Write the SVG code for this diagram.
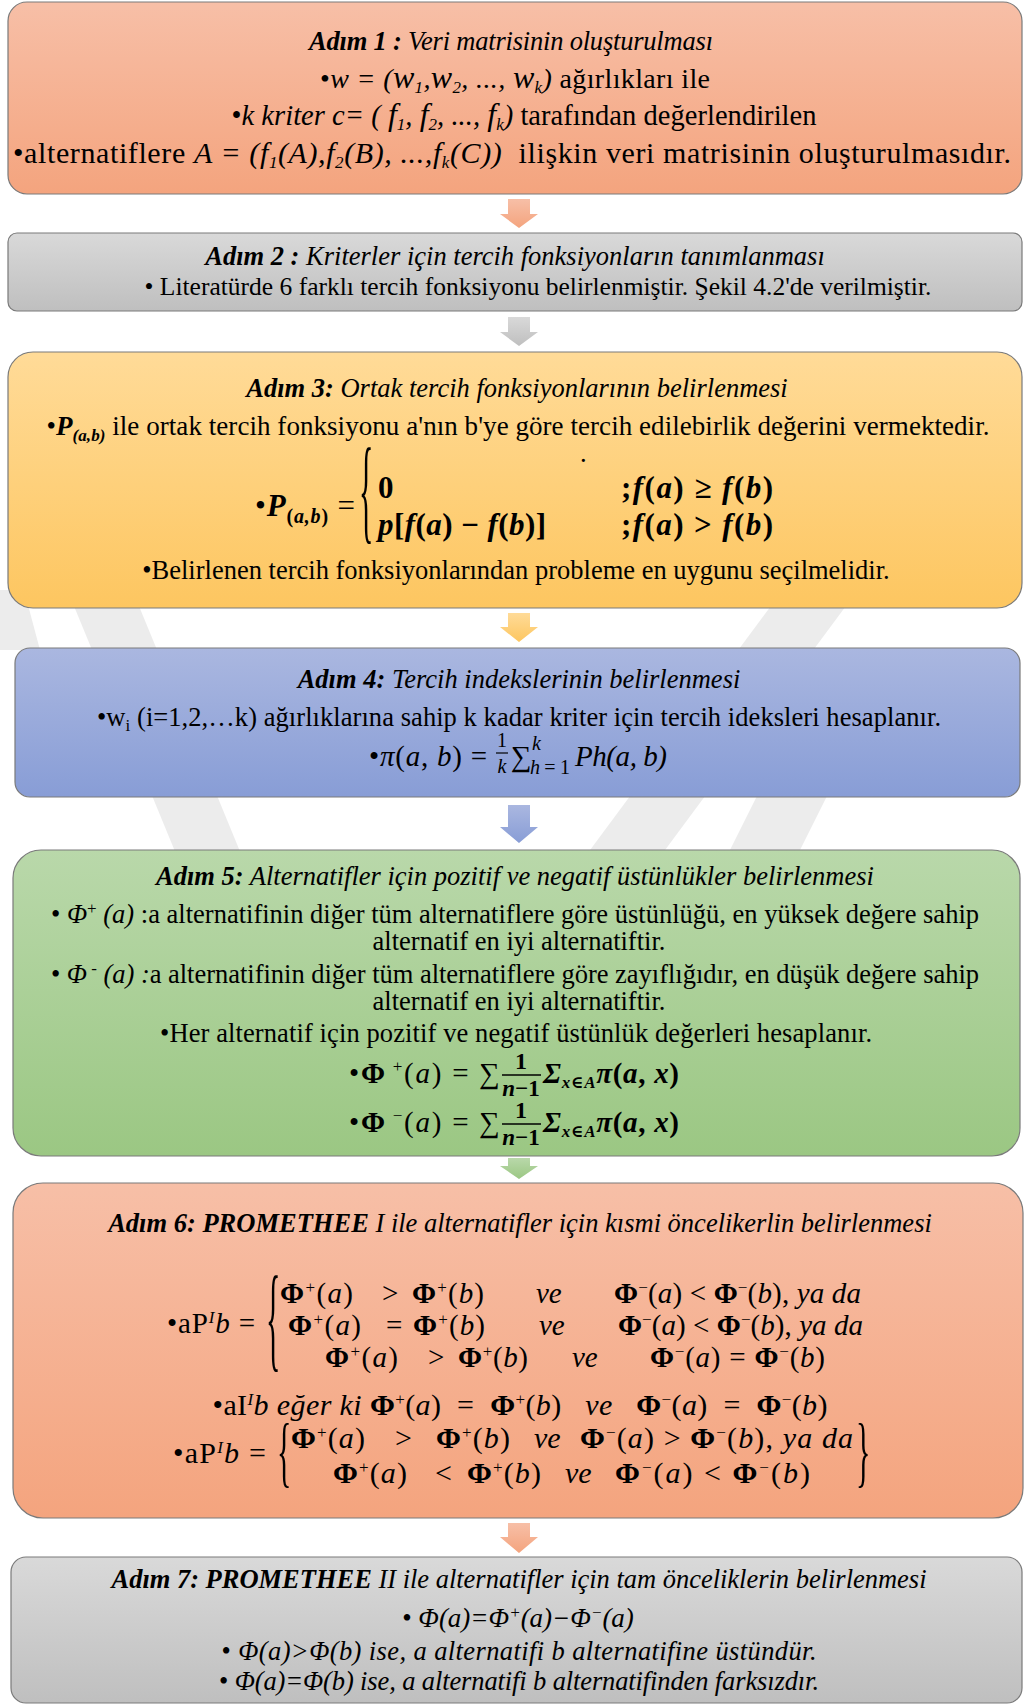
<svg xmlns="http://www.w3.org/2000/svg" width="1024" height="1704" viewBox="0 0 1024 1704">
<defs>
<style>
.t{font-family:"Liberation Serif","Times New Roman","DejaVu Serif",serif;font-size:26.5px;fill:#000}
.m{font-family:"Liberation Serif","Times New Roman","DejaVu Serif",serif;font-size:29px;fill:#000}
.bi{font-weight:bold;font-style:italic}
.i{font-style:italic}
.b{font-weight:bold}
.sp{font-size:17px}
.box{stroke:#7a7a7a;stroke-width:1.2}
.wm{fill:#ececec}
</style>
<linearGradient id="gS" x1="0" y1="0" x2="0" y2="1"><stop offset="0" stop-color="#f7bfa7"/><stop offset="1" stop-color="#f4a47e"/></linearGradient>
<linearGradient id="gG" x1="0" y1="0" x2="0" y2="1"><stop offset="0" stop-color="#d9d9d9"/><stop offset="1" stop-color="#bfbfbf"/></linearGradient>
<linearGradient id="gY" x1="0" y1="0" x2="0" y2="1"><stop offset="0" stop-color="#ffdb98"/><stop offset="1" stop-color="#fdc660"/></linearGradient>
<linearGradient id="gB" x1="0" y1="0" x2="0" y2="1"><stop offset="0" stop-color="#aab7e0"/><stop offset="1" stop-color="#889dd6"/></linearGradient>
<linearGradient id="gV" x1="0" y1="0" x2="0" y2="1"><stop offset="0" stop-color="#b9d8aa"/><stop offset="1" stop-color="#9bc783"/></linearGradient>
</defs>

<g id="watermark">
<polygon class="wm" points="55,560 120,560 260,900 195,900"/>
<polygon class="wm" points="805,560 880,560 628,900 553,900"/>
<polygon class="wm" points="0,590 24,590 40,650 0,650"/>
<polygon class="wm" points="760,790 830,790 800,850 730,850"/>
</g>

<g id="connectors">
<polygon fill="url(#gS)" points="508,199 530,199 530,214 538,214 519,228 500,214 508,214"/>
<polygon fill="url(#gG)" points="508,317 530,317 530,332 538,332 519,346 500,332 508,332"/>
<polygon fill="url(#gY)" points="508,613 530,613 530,627 538,627 519,642 500,627 508,627"/>
<polygon fill="url(#gB)" points="508,805 530,805 530,827 538,827 519,843 500,827 508,827"/>
<polygon fill="url(#gV)" points="508,1158 530,1158 530,1166 538,1166 519,1179 500,1166 508,1166"/>
<polygon fill="url(#gS)" points="508,1523 530,1523 530,1537 538,1537 519,1553 500,1537 508,1537"/>
</g>

<g id="step1">
<rect class="box" x="8" y="2" width="1014" height="192" rx="19" fill="url(#gS)"/>
<text class="t" x="511" y="50" text-anchor="middle" textLength="404"><tspan class="bi">Adım 1 :</tspan><tspan class="i"> Veri matrisinin oluşturulması</tspan></text>
<text class="t" style="font-size:28px" x="515" y="88" text-anchor="middle" textLength="390">•<tspan class="i">w = (</tspan><tspan class="i" font-size="32">w</tspan><tspan class="i sp" dy="5">1</tspan><tspan class="i" dy="-5">,</tspan><tspan class="i" font-size="32">w</tspan><tspan class="i sp" dy="5">2</tspan><tspan class="i" dy="-5">, ..., </tspan><tspan class="i" font-size="32">w</tspan><tspan class="i sp" dy="5">k</tspan><tspan class="i" dy="-5">)</tspan> ağırlıkları ile</text>
<text class="t" style="font-size:28.5px" x="524" y="125" text-anchor="middle" textLength="585">•<tspan class="i">k kriter c= ( </tspan><tspan class="i" font-size="32">f</tspan><tspan class="i sp" dy="5">1</tspan><tspan class="i" dy="-5">, </tspan><tspan class="i" font-size="32">f</tspan><tspan class="i sp" dy="5">2</tspan><tspan class="i" dy="-5">, ..., </tspan><tspan class="i" font-size="32">f</tspan><tspan class="i sp" dy="5">k</tspan><tspan class="i" dy="-5">)</tspan> tarafından değerlendirilen</text>
<text class="t" style="font-size:30px" x="512" y="163" text-anchor="middle" textLength="998">•alternatiflere <tspan class="i">A = (f</tspan><tspan class="i sp" dy="5">1</tspan><tspan class="i" dy="-5">(A),f</tspan><tspan class="i sp" dy="5">2</tspan><tspan class="i" dy="-5">(B), ...,f</tspan><tspan class="i sp" dy="5">k</tspan><tspan class="i" dy="-5">(C))</tspan>&#160; ilişkin veri matrisinin oluşturulmasıdır.</text>
</g>

<g id="step2">
<rect class="box" x="8" y="233" width="1014" height="78" rx="9" fill="url(#gG)"/>
<text class="t" x="515" y="265" text-anchor="middle"><tspan class="bi">Adım 2 :</tspan><tspan class="i"> Kriterler için tercih fonksiyonların tanımlanması</tspan></text>
<text class="t" style="font-size:25.5px" x="538" y="295" text-anchor="middle">•&#160;Literatürde 6 farklı tercih fonksiyonu belirlenmiştir. Şekil 4.2'de verilmiştir.</text>
</g>

<g id="step3">
<rect class="box" x="8" y="352" width="1014" height="256" rx="25" fill="url(#gY)"/>
<text class="t" x="517" y="397" text-anchor="middle"><tspan class="bi">Adım 3:</tspan><tspan class="i"> Ortak tercih fonksiyonlarının belirlenmesi</tspan></text>
<text class="t" style="font-size:27px" x="518" y="435" text-anchor="middle" textLength="943">•<tspan class="bi">P</tspan><tspan class="bi sp" dy="6">(a,b)</tspan><tspan dy="-6"> ile ortak tercih fonksiyonu a'nın b'ye göre tercih edilebirlik değerini vermektedir.</tspan></text>
<text class="m" style="font-size:31px" x="255" y="516" textLength="100">•<tspan class="bi">P</tspan><tspan class="b" font-size="20" dy="7">(</tspan><tspan class="bi" font-size="20">a,b</tspan><tspan class="b" font-size="20">)</tspan><tspan dy="-7"> =</tspan></text>
<text class="t" style="font-size:30px" transform="translate(359,528) scale(1,3.9)">{</text>
<text class="m b" style="font-size:31px" x="378" y="498">0</text>
<text class="m b" style="font-size:31px" x="378" y="535" textLength="168"><tspan class="bi">p</tspan>[<tspan class="bi">f</tspan>(<tspan class="bi">a</tspan>) − <tspan class="bi">f</tspan>(<tspan class="bi">b</tspan>)]</text>
<text class="m b" style="font-size:31px" x="621" y="498" textLength="152">;<tspan class="bi">f</tspan>(<tspan class="bi">a</tspan>) ≥ <tspan class="bi">f</tspan>(<tspan class="bi">b</tspan>)</text>
<text class="m b" style="font-size:31px" x="621" y="535" textLength="152">;<tspan class="bi">f</tspan>(<tspan class="bi">a</tspan>) &gt; <tspan class="bi">f</tspan>(<tspan class="bi">b</tspan>)</text>
<text class="t" x="580" y="462">.</text>
<text class="t" x="516" y="579" text-anchor="middle">•Belirlenen tercih fonksiyonlarından probleme en uygunu seçilmelidir.</text>
</g>

<g id="step4">
<rect class="box" x="15" y="648" width="1005" height="149" rx="15" fill="url(#gB)"/>
<text class="t" x="519" y="688" text-anchor="middle"><tspan class="bi">Adım 4:</tspan><tspan class="i"> Tercih indekslerinin belirlenmesi</tspan></text>
<text class="t" x="519" y="726" text-anchor="middle" textLength="844">•w<tspan class="sp" dy="5">i</tspan><tspan dy="-5"> (i=1,2,…k) ağırlıklarına sahip k kadar kriter için tercih ideksleri hesaplanır.</tspan></text>
<text class="m" x="369" y="766" textLength="118">•<tspan class="i">π</tspan>(<tspan class="i">a</tspan>, <tspan class="i">b</tspan>) =</text>
<text class="t" style="font-size:20px" x="502" y="747" text-anchor="middle">1</text>
<line x1="496" y1="753" x2="508" y2="753" stroke="#000" stroke-width="1.2"/>
<text class="t i" style="font-size:20px" x="502" y="773" text-anchor="middle">k</text>
<text class="m" x="511" y="766">∑</text>
<text class="t i" style="font-size:20px" x="532" y="750">k</text>
<text class="t" style="font-size:20px" x="530" y="774" textLength="40"><tspan class="i">h</tspan>=1</text>
<text class="m i" x="575" y="766" textLength="92">Ph(a, b)</text>
</g>

<g id="step5">
<rect class="box" x="13" y="850" width="1007" height="306" rx="28" fill="url(#gV)"/>
<text class="t" x="515" y="885" text-anchor="middle"><tspan class="bi">Adım 5:</tspan><tspan class="i"> Alternatifler için pozitif ve negatif üstünlükler belirlenmesi</tspan></text>
<text class="t" x="515" y="923" text-anchor="middle" textLength="928">• <tspan class="i">Φ</tspan><tspan class="sp" dy="-9">+</tspan><tspan class="i" dy="9"> (a)</tspan> :a alternatifinin diğer tüm alternatiflere göre üstünlüğü, en yüksek değere sahip</text>
<text class="t" x="519" y="950" text-anchor="middle">alternatif en iyi alternatiftir.</text>
<text class="t" x="515" y="983" text-anchor="middle" textLength="928">• <tspan class="i">Φ</tspan><tspan class="sp" dy="-9"> -</tspan><tspan class="i" dy="9"> (a) :</tspan>a alternatifinin diğer tüm alternatiflere göre zayıflığıdır, en düşük değere sahip</text>
<text class="t" x="519" y="1010" text-anchor="middle">alternatif en iyi alternatiftir.</text>
<text class="t" x="516" y="1042" text-anchor="middle" textLength="712">•Her alternatif için pozitif ve negatif üstünlük değerleri hesaplanır.</text>
<text class="m" x="349" y="1083" textLength="151">•<tspan class="b">Φ</tspan><tspan class="sp" dy="-11"> +</tspan><tspan dy="11">(</tspan><tspan class="i">a</tspan>) = ∑</text>
<text class="t b" style="font-size:24px" x="521" y="1069" text-anchor="middle">1</text>
<line x1="502" y1="1075" x2="541" y2="1075" stroke="#000" stroke-width="1.5"/>
<text class="t b" style="font-size:23px" x="521" y="1096" text-anchor="middle"><tspan class="i">n</tspan>−1</text>
<text class="m b" x="543" y="1083" textLength="136"><tspan class="bi">Σ</tspan><tspan class="bi sp" dy="5">x∈A</tspan><tspan class="bi" dy="-5">π</tspan>(<tspan class="bi">a</tspan>, <tspan class="bi">x</tspan>)</text>
<text class="m" x="349" y="1132" textLength="151">•<tspan class="b">Φ</tspan><tspan class="sp" dy="-11"> −</tspan><tspan dy="11">(</tspan><tspan class="i">a</tspan>) = ∑</text>
<text class="t b" style="font-size:24px" x="521" y="1118" text-anchor="middle">1</text>
<line x1="502" y1="1124" x2="541" y2="1124" stroke="#000" stroke-width="1.5"/>
<text class="t b" style="font-size:23px" x="521" y="1145" text-anchor="middle"><tspan class="i">n</tspan>−1</text>
<text class="m b" x="543" y="1132" textLength="136"><tspan class="bi">Σ</tspan><tspan class="bi sp" dy="5">x∈A</tspan><tspan class="bi" dy="-5">π</tspan>(<tspan class="bi">a</tspan>, <tspan class="bi">x</tspan>)</text>
</g>

<g id="step6">
<rect class="box" x="13" y="1183" width="1010" height="335" rx="30" fill="url(#gS)"/>
<text class="t" x="520" y="1232" text-anchor="middle"><tspan class="bi">Adım 6: PROMETHEE</tspan><tspan class="i"> I ile alternatifler için kısmi öncelikerlin belirlenmesi</tspan></text>
<text class="m" x="167" y="1333" textLength="88">•aP<tspan class="i sp" dy="-10">I</tspan><tspan class="i" dy="10">b</tspan> =</text>
<text class="t" style="font-size:30px" transform="translate(266,1356) scale(1,3.9)">{</text>
<text class="m" x="280" y="1303" textLength="73"><tspan class="b">Φ</tspan><tspan class="sp" dy="-10">+</tspan><tspan dy="10">(</tspan><tspan class="i">a</tspan>)</text>
<text class="m" x="382" y="1303">&gt;</text>
<text class="m" x="412" y="1303" textLength="72"><tspan class="b">Φ</tspan><tspan class="sp" dy="-10">+</tspan><tspan dy="10">(</tspan><tspan class="i">b</tspan>)</text>
<text class="m i" x="536" y="1303">ve</text>
<text class="m" x="614" y="1303" textLength="247"><tspan class="b">Φ</tspan><tspan class="sp" dy="-10">−</tspan><tspan dy="10">(</tspan><tspan class="i">a</tspan>) &lt; <tspan class="b">Φ</tspan><tspan class="sp" dy="-10">−</tspan><tspan dy="10">(</tspan><tspan class="i">b</tspan>), <tspan class="i">ya da</tspan></text>
<text class="m" x="288" y="1335" textLength="73"><tspan class="b">Φ</tspan><tspan class="sp" dy="-10">+</tspan><tspan dy="10">(</tspan><tspan class="i">a</tspan>)</text>
<text class="m" x="386" y="1335">=</text>
<text class="m" x="413" y="1335" textLength="72"><tspan class="b">Φ</tspan><tspan class="sp" dy="-10">+</tspan><tspan dy="10">(</tspan><tspan class="i">b</tspan>)</text>
<text class="m i" x="539" y="1335">ve</text>
<text class="m" x="618" y="1335" textLength="245"><tspan class="b">Φ</tspan><tspan class="sp" dy="-10">−</tspan><tspan dy="10">(</tspan><tspan class="i">a</tspan>) &lt; <tspan class="b">Φ</tspan><tspan class="sp" dy="-10">−</tspan><tspan dy="10">(</tspan><tspan class="i">b</tspan>), <tspan class="i">ya da</tspan></text>
<text class="m" x="325" y="1367" textLength="73"><tspan class="b">Φ</tspan><tspan class="sp" dy="-10">+</tspan><tspan dy="10">(</tspan><tspan class="i">a</tspan>)</text>
<text class="m" x="428" y="1367">&gt;</text>
<text class="m" x="458" y="1367" textLength="70"><tspan class="b">Φ</tspan><tspan class="sp" dy="-10">+</tspan><tspan dy="10">(</tspan><tspan class="i">b</tspan>)</text>
<text class="m i" x="572" y="1367">ve</text>
<text class="m" x="650" y="1367" textLength="175"><tspan class="b">Φ</tspan><tspan class="sp" dy="-10">−</tspan><tspan dy="10">(</tspan><tspan class="i">a</tspan>) = <tspan class="b">Φ</tspan><tspan class="sp" dy="-10">−</tspan><tspan dy="10">(</tspan><tspan class="i">b</tspan>)</text>
<text class="m" style="font-size:30px" x="520" y="1415" text-anchor="middle" textLength="615">•aI<tspan class="i sp" dy="-10">I</tspan><tspan class="i" dy="10">b eğer ki </tspan><tspan class="b">Φ</tspan><tspan class="sp" dy="-10">+</tspan><tspan dy="10">(</tspan><tspan class="i">a</tspan>)&#160; =&#160; <tspan class="b">Φ</tspan><tspan class="sp" dy="-10">+</tspan><tspan dy="10">(</tspan><tspan class="i">b</tspan>)&#160;&#160; <tspan class="i">ve</tspan>&#160;&#160; <tspan class="b">Φ</tspan><tspan class="sp" dy="-10">−</tspan><tspan dy="10">(</tspan><tspan class="i">a</tspan>)&#160; =&#160; <tspan class="b">Φ</tspan><tspan class="sp" dy="-10">−</tspan><tspan dy="10">(</tspan><tspan class="i">b</tspan>)</text>
<text class="m" style="font-size:30px" x="173" y="1463" textLength="93">•aP<tspan class="i sp" dy="-10">I</tspan><tspan class="i" dy="10">b</tspan> =</text>
<text class="t" style="font-size:30px" transform="translate(277,1478) scale(1,2.6)">{</text>
<text class="t" style="font-size:30px" transform="translate(856,1478) scale(1,2.6)">}</text>
<text class="m" style="font-size:30px" x="291" y="1448" textLength="74"><tspan class="b">Φ</tspan><tspan class="sp" dy="-10">+</tspan><tspan dy="10">(</tspan><tspan class="i">a</tspan>)</text>
<text class="m" style="font-size:30px" x="395" y="1448">&gt;</text>
<text class="m" style="font-size:30px" x="436" y="1448" textLength="74"><tspan class="b">Φ</tspan><tspan class="sp" dy="-10">+</tspan><tspan dy="10">(</tspan><tspan class="i">b</tspan>)</text>
<text class="m i" style="font-size:30px" x="534" y="1448">ve</text>
<text class="m" style="font-size:30px" x="580" y="1448" textLength="273"><tspan class="b">Φ</tspan><tspan class="sp" dy="-10">−</tspan><tspan dy="10">(</tspan><tspan class="i">a</tspan>) &gt; <tspan class="b">Φ</tspan><tspan class="sp" dy="-10">−</tspan><tspan dy="10">(</tspan><tspan class="i">b</tspan>), <tspan class="i">ya da</tspan></text>
<text class="m" style="font-size:30px" x="333" y="1483" textLength="74"><tspan class="b">Φ</tspan><tspan class="sp" dy="-10">+</tspan><tspan dy="10">(</tspan><tspan class="i">a</tspan>)</text>
<text class="m" style="font-size:30px" x="435" y="1483">&lt;</text>
<text class="m" style="font-size:30px" x="467" y="1483" textLength="74"><tspan class="b">Φ</tspan><tspan class="sp" dy="-10">+</tspan><tspan dy="10">(</tspan><tspan class="i">b</tspan>)</text>
<text class="m i" style="font-size:30px" x="565" y="1483">ve</text>
<text class="m" style="font-size:30px" x="615" y="1483" textLength="195"><tspan class="b">Φ</tspan><tspan class="sp" dy="-10">−</tspan><tspan dy="10">(</tspan><tspan class="i">a</tspan>) &lt; <tspan class="b">Φ</tspan><tspan class="sp" dy="-10">−</tspan><tspan dy="10">(</tspan><tspan class="i">b</tspan>)</text>
</g>

<g id="step7">
<rect class="box" x="11" y="1557" width="1011" height="146" rx="15" fill="url(#gG)"/>
<text class="t" x="519" y="1588" text-anchor="middle" textLength="815"><tspan class="bi">Adım 7: PROMETHEE</tspan><tspan class="i"> II ile alternatifler için tam önceliklerin belirlenmesi</tspan></text>
<text class="t" style="font-size:27px" x="518" y="1627" text-anchor="middle">• <tspan class="i">Φ(a)=Φ</tspan><tspan class="i sp" dy="-9">+</tspan><tspan class="i" dy="9">(a)−Φ</tspan><tspan class="i sp" dy="-9">−</tspan><tspan class="i" dy="9">(a)</tspan></text>
<text class="t" x="519" y="1660" text-anchor="middle" textLength="595">• <tspan class="i">Φ(a)&gt;Φ(b) ise, a alternatifi b alternatifine üstündür.</tspan></text>
<text class="t" x="519" y="1690" text-anchor="middle" textLength="600">• <tspan class="i">Φ(a)=Φ(b) ise, a alternatifi b alternatifinden farksızdır.</tspan></text>
</g>
</svg>
